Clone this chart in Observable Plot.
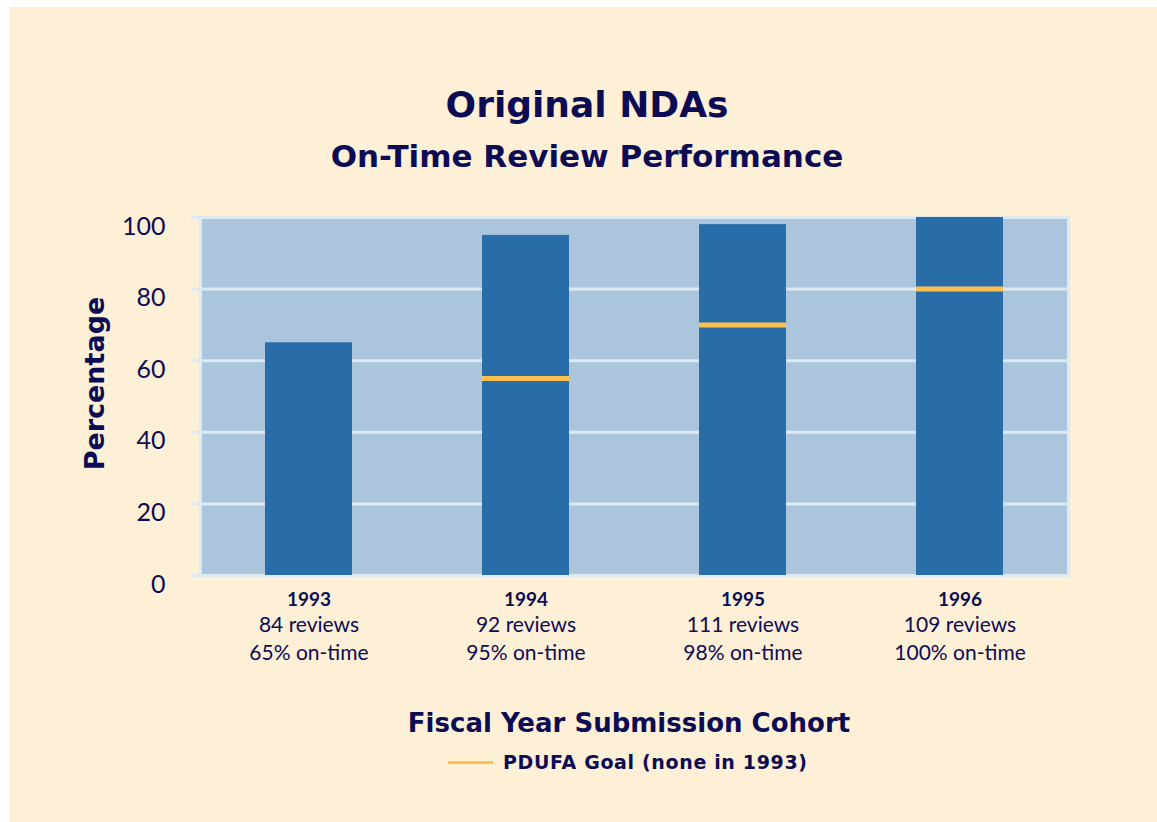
<!DOCTYPE html>
<html>
<head>
<meta charset="utf-8">
<script src="https://cdn.jsdelivr.net/npm/d3@7"></script>
<script src="https://cdn.jsdelivr.net/npm/@observablehq/plot@0.6"></script>
<style>
  html, body { margin: 0; padding: 0; background: #ffffff; }
  #card { position: absolute; left: 9px; top: 7px; width: 1148px; height: 815px; background: #FEEFD7; overflow: hidden; }
  .t { position: absolute; left: 0; width: 1148px; text-align: center; color: #0C0C55; font-weight: bold; white-space: nowrap; }
  #t1 { top: 78px; font-family: "DejaVu Sans", sans-serif; font-size: 36px; line-height: 40px; padding-left: 8px; box-sizing: border-box; }
  #t2 { top: 132px; font-family: "DejaVu Sans", sans-serif; font-size: 31px; line-height: 34px; padding-left: 8px; box-sizing: border-box; }
  #xt { top: 700px; font-family: "DejaVu Sans", sans-serif; font-size: 26px; line-height: 32px; padding-left: 92px; box-sizing: border-box; }
  #leg { position: absolute; top: 740px; left: 439px; height: 30px; display: flex; align-items: center; color: #0C0C55; font-family: "DejaVu Sans", sans-serif; font-weight: bold; font-size: 19px; letter-spacing: 0.65px; white-space: nowrap; }
  #leg .sw { width: 45px; height: 3px; background: #FDBF4D; margin-right: 10px; }
  #chart { position: absolute; left: 0; top: 183px; }
</style>
</head>
<body>
<div id="card">
  <div class="t" id="t1">Original NDAs</div>
  <div class="t" id="t2">On-Time Review Performance</div>
  <div id="chart"></div>
  <div class="t" id="xt">Fiscal Year Submission Cohort</div>
  <div id="leg"><span class="sw"></span><span>PDUFA Goal (none in 1993)</span></div>
</div>
<script>
const years = ["1993", "1994", "1995", "1996"];
const onTime = [65, 95, 98, 100];
const reviews = [84, 92, 111, 109];
const goalYears = ["1994", "1995", "1996"];
const goals = [55, 70, 80];
const yTicks = [0, 20, 40, 60, 80, 100];

const navy = "#0C0C55";
const bars = years.map((y, i) => ({year: y, pct: onTime[i], reviews: reviews[i]}));
const goalData = goalYears.map((y, i) => ({year: y, goal: goals[i]}));

const chart = Plot.plot({
  width: 1148,
  height: 485,
  marginLeft: 191,
  marginRight: 89,
  marginTop: 27,
  marginBottom: 100,
  style: {fontFamily: "Lato, sans-serif", background: "transparent", color: navy, overflow: "visible"},
  x: {type: "band", domain: years, paddingInner: 0.6, paddingOuter: 0.3, axis: null},
  y: {domain: [0, 100], axis: null},
  marks: [
    Plot.frame({fill: "#ABC6DC", stroke: null}),
    Plot.gridY(yTicks, {stroke: "#DCEAF3", strokeOpacity: 1, strokeWidth: 3}),
    Plot.axisY(yTicks, {tickSize: 9, tickFormat: () => "", stroke: "#DCEAF3", strokeWidth: 3, label: null}),
    Plot.text(yTicks, {y: d => d, text: d => String(d), frameAnchor: "left", textAnchor: "end", dx: -35, dy: 9, fontSize: 25, fill: navy}),
    Plot.frame({stroke: "#DCEAF3", strokeWidth: 3}),
    Plot.barY(bars, {x: "year", y: "pct", fill: "#286CA8"}),
    Plot.tickY(goalData, {x: "year", y: "goal", stroke: "#FDBF4D", strokeWidth: 5}),
    Plot.text(bars, {x: "year", text: d => d.year, frameAnchor: "bottom", dy: 30, fontSize: 19, fontWeight: "bold", fill: navy}),
    Plot.text(bars, {x: "year", text: d => `${d.reviews} reviews`, frameAnchor: "bottom", dy: 56, fontSize: 21, fill: navy}),
    Plot.text(bars, {x: "year", text: d => `${d.pct}% on-time`, frameAnchor: "bottom", dy: 84, fontSize: 21, fill: navy}),
    Plot.text(["Percentage"], {text: d => d, frameAnchor: "left", textAnchor: "middle", dx: -105, dy: -13, rotate: -90, fontSize: 27, fontWeight: "bold", fill: navy, fontFamily: "DejaVu Sans, sans-serif"})
  ]
});
document.getElementById("chart").appendChild(chart);
</script>
</body>
</html>
